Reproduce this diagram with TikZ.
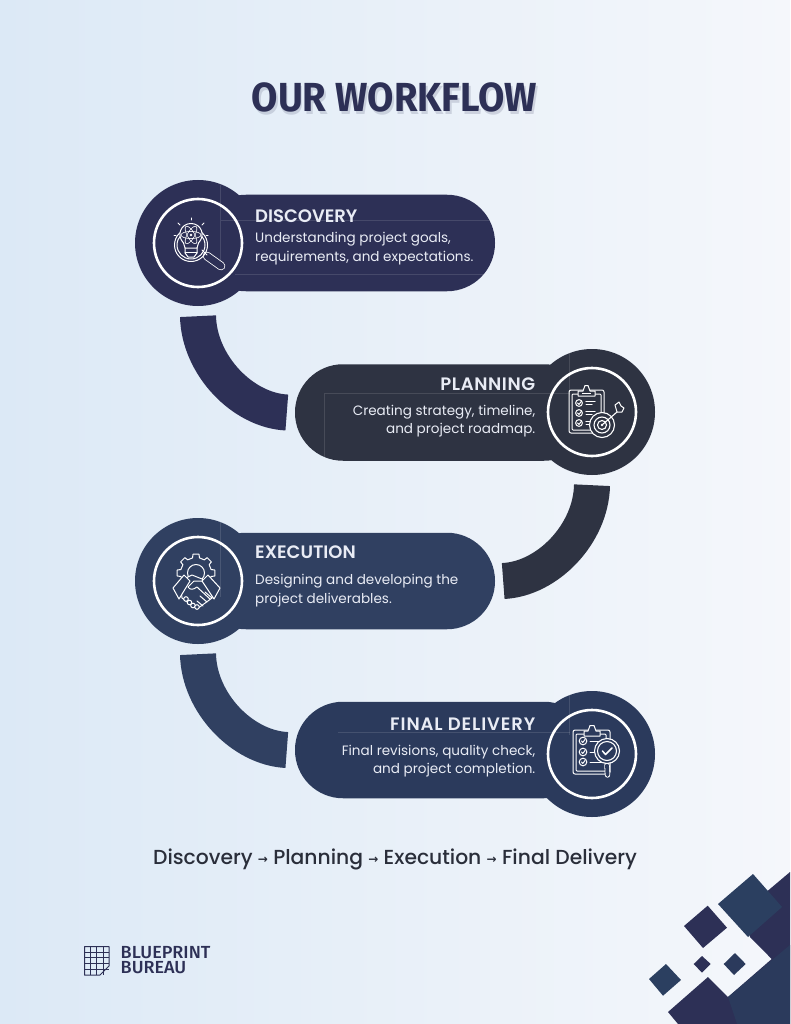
\documentclass[tikz,border=0pt]{standalone}
\usepackage{fontspec}
\setmainfont[BoldFont={Poppins SemiBold}]{Poppins}
\newfontfamily\mediumfont{Poppins Medium}
\newfontfamily\titlefont[FakeStretch=0.94]{Fira Sans}
\newfontfamily\logofont[FakeStretch=1.03]{Fira Sans Medium}
\newfontfamily\arrowfont{DejaVu Sans}
\usetikzlibrary{calc,positioning}
\definecolor{bgA}{HTML}{DCE9F6}
\definecolor{bgB}{HTML}{E8EEF7}
\definecolor{bgC}{HTML}{F5F7FB}
\definecolor{navyA}{HTML}{2D3056}
\definecolor{navyB}{HTML}{2E3342}
\definecolor{navyC}{HTML}{304061}
\definecolor{navyD}{HTML}{2B3A5C}
\definecolor{navyE}{HTML}{2B3F60}
\definecolor{inkA}{HTML}{2A2E3A}
\definecolor{softW}{HTML}{E9ECF5}
\newcommand{\flowarrow}{{\arrowfont\bfseries\fontsize{12}{12}\selectfont\raisebox{0.5pt}{→}}}
\tikzset{
  cardbox/.style={minimum width=297, minimum height=96.5, rounded corners=48, inner sep=0},
  discbox/.style={circle, minimum size=126, inner sep=0},
  ringbox/.style={circle, draw=white, line width=2.6, minimum size=88, inner sep=0},
  linkband/.style={line width=36},
  cardtitle/.style={text=softW, inner sep=0, font=\bfseries\fontsize{18}{19}\selectfont},
  carddesc/.style={text=softW, inner sep=0, font=\fontsize{13.55}{18.8}\selectfont},
  iconline/.style={draw=white, line width=1, line cap=round, line join=round},
  hairline/.style={white, opacity=0.12, line width=0.5}
}
\begin{document}
\begin{tikzpicture}[x=1pt,y=-1pt]
\useasboundingbox (0,0) rectangle (790,1024);
\shade[left color=bgA, middle color=bgB, right color=bgC] (0,0) rectangle (790,1024);

\node[text=navyA, opacity=0.16, inner sep=0, font=\titlefont\bfseries\fontsize{40.6}{41}\selectfont] at (396,100) {OUR WORKFLOW};
\node (title) [text=navyA, inner sep=0, font=\titlefont\bfseries\fontsize{40.6}{41}\selectfont] at (394.5,97) {OUR WORKFLOW};

\coordinate (P1) at (198,243);
\coordinate (P2) at (592,412);
\coordinate (P3) at (198,581);
\coordinate (P4) at (592,754);

\node (card1) [cardbox, fill=navyA] at (346.5,243) {};
\node (card2) [cardbox, fill=navyB] at (443.5,412.5) {};
\node (card3) [cardbox, fill=navyC] at (346.5,581) {};
\node (card4) [cardbox, fill=navyD] at (443.5,750) {};
\node (disc1) [discbox, fill=navyA] at (P1) {};
\node (disc2) [discbox, fill=navyB] at (P2) {};
\node (disc3) [discbox, fill=navyC] at (P3) {};
\node (disc4) [discbox, fill=navyD] at (P4) {};
\node (ring1) [ringbox] at (P1) {};
\node (ring2) [ringbox] at (P2) {};
\node (ring3) [ringbox] at (P3) {};
\node (ring4) [ringbox] at (P4) {};

\draw[linkband, navyA] ($(disc1.south)+(0,10)$) .. controls +(1,49) and +(-44,-2) .. ($(card2.west)+(-8,0)$);
\draw[linkband, navyB] ($(disc2.south)+(0,10)$) .. controls +(-1,49) and +(44,-2) .. ($(card3.east)+(8,0)$);
\draw[linkband, navyC] ($(disc3.south)+(0,10)$) .. controls +(1,49) and +(-44,-2) .. ($(card4.west)+(-8,0)$);

\draw[hairline] (220.5,182) -- (220.5,270);
\draw[hairline] (221,220.5) -- (495,220.5);
\draw[hairline] (235,274.5) -- (488,274.5);
\draw[hairline] (569.5,350) -- (569.5,395);
\draw[hairline] (325,393.5) -- (570,393.5);
\draw[hairline] (324.5,393) -- (324.5,460);
\draw[hairline] (220.5,522) -- (220.5,597);
\draw[hairline] (569.5,692) -- (569.5,735);
\draw[hairline] (338,732.5) -- (570,732.5);

\node (name1) [cardtitle, anchor=base west] at (255,222.5) {DISCOVERY};
\node (text1) [carddesc, anchor=north west, align=left] at (255,232) {Understanding project goals,\\requirements, and expectations.};
\node (name2) [cardtitle, anchor=base east] at (535.5,390) {\addfontfeatures{LetterSpace=3.5}PLANNING};
\node (text2) [carddesc, anchor=north east, align=right] at (535.5,404.5) {Creating strategy, timeline,\\and project roadmap.};
\node (name3) [cardtitle, anchor=base west] at (255,558) {EXECUTION};
\node (text3) [carddesc, anchor=north west, align=left] at (255,574) {Designing and developing the\\project deliverables.};
\node (name4) [cardtitle, anchor=base east] at (535.5,730) {\addfontfeatures{LetterSpace=5}FINAL DELIVERY};
\node (text4) [carddesc, anchor=north east, align=right] at (535.5,744.5) {Final revisions, quality check,\\and project completion.};

% icon 1
\draw[white, line width=8.6, line cap=round] (207,256) -- (221,266);
\draw[navyA, line width=7, line cap=round] (207,256) -- (221,266);
\draw[iconline] (202,250) -- (207,255);
\draw[iconline] (191,245) circle (16.5);
\draw[iconline] (191,245) circle (14);
\draw[iconline, fill=navyA] (183.5,243) .. controls (176,235) and (181,223.5) .. (191,223.5) .. controls (201,223.5) and (206,235) .. (198.5,243) -- (197,248) -- (185,248) -- cycle;
\draw[iconline] (185,248) -- (185,253) -- (188,257) -- (194,257) -- (197,253) -- (197,248);
\draw[iconline] (185,252) -- (197,252);
\foreach \ang in {0,60,120}
  \draw[iconline, line width=0.6, rotate around={\ang:(191,235)}] (191,235) ellipse (10 and 3.6);
\fill[white] (191,235) circle (1.3);
\foreach \xa/\ya/\xb/\yb in {191/218/191/220, 178/223/180/225, 204/223/202/225, 174/235/176/235, 208/235/206/235}
  \draw[iconline] (\xa,\ya) -- (\xb,\yb);

% icon 2
\draw[iconline, rounded corners=2] (569,390) rectangle (604,433);
\draw[iconline, rounded corners=1] (572,394) rectangle (601,430);
\draw[iconline, fill=navyB] (578,396) -- (578,391) -- (583,391) -- (585,385.5) -- (588,385.5) -- (590,391) -- (595,391) -- (595,396) -- cycle;
\draw[white, line width=1.4] (582,393.5) -- (591,393.5);
\foreach \yy in {403,413,423} {
  \draw[iconline] (579,\yy) circle (3.4);
  \draw[iconline] (577.5,\yy) -- (579,\yy+1.4) -- (581.5,\yy-1.8);
  \draw[iconline, line width=1.1] (586,\yy-1.5) -- (595,\yy-1.5);
  \draw[iconline] (586,\yy+1.5) -- (592,\yy+1.5);
}
\draw[iconline, fill=navyB, line width=1.1] (602,425) circle (12.5);
\draw[iconline, line width=1.1] (602,425) circle (8);
\draw[iconline, line width=1.1] (602,425) circle (4.5);
\fill[white] (602,425) circle (1.3);
\draw[iconline, line width=1.1] (602,425) -- (617,412);
\draw[iconline] (617,412) -- (615,405) -- (619,402) -- (621,406) -- (624,408) -- (622,412) -- (617,412);

% icon 3
\begin{scope}[shift={(196,573)}]
\foreach \ang in {0,45,...,315}
  \draw[iconline] (\ang-31:15.5) -- (\ang-13:15.5) -- (\ang-9:19) -- (\ang+9:19) -- (\ang+13:15.5);
\draw[iconline] (0,0) circle (8.5);
\end{scope}
\draw[iconline, fill=navyC] (180,581) -- (192,575) -- (202,579) -- (214,588) -- (212,598) -- (197,609) -- (182,598) -- cycle;
\draw[iconline, fill=navyC] (173,588) -- (184,575) -- (190,581) -- (179,599) -- cycle;
\draw[iconline, fill=navyC] (220,588) -- (208,575) -- (202,581) -- (214,599) -- cycle;
\draw[iconline] (202,581) -- (194,581) -- (188,587) .. controls (190,590) and (193,590) .. (197,587) -- (210,599);
\draw[iconline] (205,592) -- (212,598);
\draw[iconline] (200,596) -- (207,602);
\draw[iconline] (197,601) -- (203,606);
\foreach \cx/\cy in {186/599,189.5/602.5,193/605.5,197/607}
  \draw[iconline, fill=navyC] (\cx,\cy) circle (2.3);

% icon 4
\draw[iconline, rounded corners=2] (573,730) rectangle (610,774);
\draw[iconline, rounded corners=1] (576,734) rectangle (606,771);
\draw[iconline, fill=navyD] (584,736) -- (584,731) -- (588,731) -- (590,725.5) -- (594,725.5) -- (596,731) -- (600,731) -- (600,736) -- cycle;
\foreach \yy in {741,752,762} {
  \draw[iconline] (583,\yy) circle (3.8);
  \draw[iconline] (581.5,\yy) -- (582.8,\yy+1.4) -- (585,\yy-1.5);
  \draw[iconline] (590,\yy) -- (602,\yy);
}
\draw[white, line width=5.4, line cap=round] (607,765) -- (607.5,775);
\draw[navyD, line width=3.8, line cap=round] (607,765) -- (607.5,775);
\draw[iconline, fill=navyD, line width=1.1] (607,751) circle (12.5);
\draw[iconline, line width=1.1] (607,751) circle (9.5);
\draw[iconline, line width=1.5] (602.5,751) -- (605.5,754.5) -- (612,748);

\node (flow) [text=inkA, inner sep=0, anchor=base, font=\mediumfont\fontsize{20.3}{22}\selectfont] at (395,864) {Discovery \flowarrow{} Planning \flowarrow{} Execution \flowarrow{} Final Delivery};

% logo
\draw[navyA, line width=1, line join=round] (84.5,946.5) -- (109,946.5) -- (109,966) -- (100,975) -- (84.5,975) -- cycle;
\foreach \xx in {90.6,96.8,103}
  \draw[navyA, line width=0.9] (\xx,946.5) -- (\xx,975);
\foreach \yy in {952.2,957.9,963.6,969.3}
  \draw[navyA, line width=0.9] (84.5,\yy) -- (109,\yy);
\node (logo) [text=navyA, inner sep=0, anchor=north west, align=left, font=\logofont\fontsize{17.5}{15}\selectfont] at (120.5,946) {BLUEPRINT\\BUREAU};

% corner
\fill[navyA] (790,872) -- (745,910) -- (750,937) -- (771.7,959) -- (728,997) -- (708,977) -- (668,1012) -- (678,1024) -- (790,1024) -- cycle;
\fill[navyD] (790,945) -- (728,997) -- (737,1024) -- (790,1024) -- cycle;
\fill[navyE] (753,874) -- (782,907) -- (748,937) -- (718,904) -- cycle;
\fill[navyA] (707.7,905.7) -- (727,927.7) -- (703,948) -- (684,926) -- cycle;
\fill[navyD] (735,953) -- (745.7,964) -- (734,975) -- (723.7,964) -- cycle;
\fill[navyA] (702,956) -- (710.7,964) -- (702,972.7) -- (693.7,964) -- cycle;
\fill[navyE] (666,964) -- (681,980) -- (663,995.7) -- (649,979) -- cycle;
\end{tikzpicture}
\end{document}
